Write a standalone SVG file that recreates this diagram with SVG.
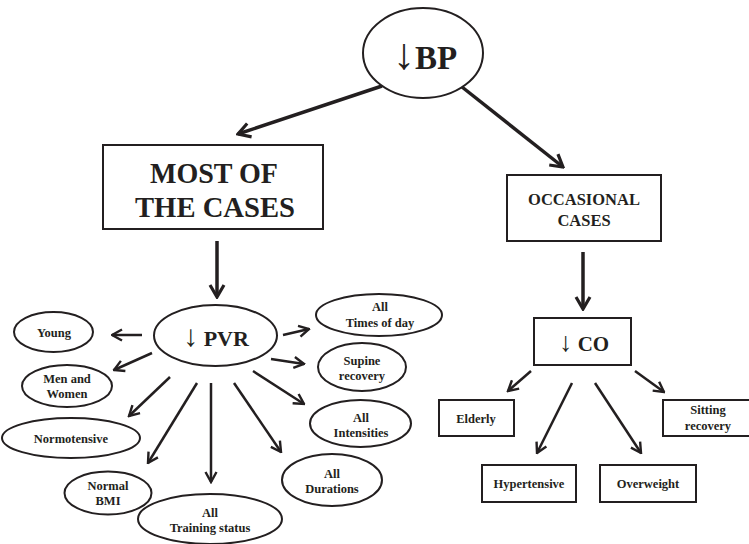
<svg xmlns="http://www.w3.org/2000/svg" width="749" height="544" viewBox="0 0 749 544">
<style>
  .shape { fill: #ffffff; stroke: #231f20; stroke-width: 2; }
  .lbl { font-family: "Liberation Serif", "Times New Roman", serif; font-weight: bold; fill: #231f20; text-anchor: middle; }
  .s { font-size: 12.5px; }
  .arrg { font-family: "Liberation Serif", "DejaVu Serif", serif; font-weight: normal; fill: #231f20; }
  .big { fill: none; stroke: #231f20; stroke-width: 3.5; }
  .thin { fill: none; stroke: #231f20; stroke-width: 2.5; }
</style>
<defs>
  <marker id="hb" viewBox="0 0 16 18" markerWidth="16" markerHeight="18" refX="14" refY="9" orient="auto" markerUnits="userSpaceOnUse">
    <path d="M2,2 L14,9 L2,16" fill="none" stroke="#231f20" stroke-width="3.2" stroke-linejoin="miter"/>
  </marker>
  <marker id="hs" viewBox="0 0 13 14" markerWidth="13" markerHeight="14" refX="11.5" refY="7" orient="auto" markerUnits="userSpaceOnUse">
    <path d="M1.5,1.5 L11.5,7 L1.5,12.5" fill="none" stroke="#231f20" stroke-width="2.4" stroke-linejoin="miter"/>
  </marker>
</defs>

<g id="connectors">
  <line class="big" x1="382" y1="86" x2="238" y2="134" marker-end="url(#hb)"/>
  <line class="big" x1="462" y1="87" x2="563" y2="167" marker-end="url(#hb)"/>
  <line class="big" x1="217" y1="241" x2="217" y2="297" marker-end="url(#hb)"/>
  <line class="big" x1="583" y1="252" x2="583" y2="309" marker-end="url(#hb)"/>

  <line class="thin" x1="142" y1="335" x2="112" y2="335" marker-end="url(#hs)"/>
  <line class="thin" x1="152" y1="353" x2="114" y2="370" marker-end="url(#hs)"/>
  <line class="thin" x1="170" y1="377" x2="129" y2="416" marker-end="url(#hs)"/>
  <line class="thin" x1="197" y1="383" x2="148" y2="463" marker-end="url(#hs)"/>
  <line class="thin" x1="211" y1="383" x2="211" y2="482" marker-end="url(#hs)"/>
  <line class="thin" x1="234" y1="383" x2="281" y2="452" marker-end="url(#hs)"/>
  <line class="thin" x1="253" y1="371" x2="304" y2="404" marker-end="url(#hs)"/>
  <line class="thin" x1="271" y1="359" x2="304" y2="364" marker-end="url(#hs)"/>
  <line class="thin" x1="283" y1="335" x2="309" y2="329" marker-end="url(#hs)"/>

  <line class="thin" x1="531" y1="371" x2="508" y2="391" marker-end="url(#hs)"/>
  <line class="thin" x1="572" y1="383" x2="537" y2="453" marker-end="url(#hs)"/>
  <line class="thin" x1="595" y1="383" x2="641" y2="453" marker-end="url(#hs)"/>
  <line class="thin" x1="635" y1="371" x2="664" y2="392" marker-end="url(#hs)"/>
</g>

<g id="bp">
  <ellipse class="shape" cx="423" cy="53" rx="60" ry="45"/>
  <text class="lbl" x="425" y="69" style="font-size:33px"><tspan class="arrg" style="font-size:44px">↓</tspan>BP</text>
</g>

<g id="most">
  <rect class="shape" x="103" y="145" width="220" height="84"/>
  <text class="lbl" x="214" y="183" style="font-size:30px" textLength="128" lengthAdjust="spacingAndGlyphs">MOST OF</text>
  <text class="lbl" x="215" y="217" style="font-size:30px" textLength="160" lengthAdjust="spacingAndGlyphs">THE CASES</text>
</g>

<g id="occasional">
  <rect class="shape" x="507" y="175" width="154" height="66"/>
  <text class="lbl" x="584" y="205" style="font-size:16.5px">OCCASIONAL</text>
  <text class="lbl" x="584" y="226" style="font-size:16.5px">CASES</text>
</g>

<g id="pvr">
  <ellipse class="shape" cx="215.5" cy="335.5" rx="61.5" ry="30.5"/>
  <text class="lbl" x="216" y="346" style="font-size:22px"><tspan class="arrg" style="font-size:30px">↓</tspan> PVR</text>
</g>

<g id="co">
  <rect class="shape" x="534" y="318" width="97" height="47"/>
  <text class="lbl" x="584" y="351" style="font-size:21px"><tspan class="arrg" style="font-size:27px">↓</tspan> CO</text>
</g>

<g id="young">
  <ellipse class="shape" cx="53.5" cy="332" rx="39.5" ry="20"/>
  <text class="lbl s" x="54" y="337">Young</text>
</g>

<g id="men-women">
  <ellipse class="shape" cx="67" cy="386" rx="45" ry="21"/>
  <text class="lbl s" x="67" y="383">Men and</text>
  <text class="lbl s" x="67" y="398">Women</text>
</g>

<g id="normotensive">
  <ellipse class="shape" cx="71" cy="438" rx="69" ry="20"/>
  <text class="lbl s" x="71" y="443">Normotensive</text>
</g>

<g id="normal-bmi">
  <ellipse class="shape" cx="108" cy="493" rx="43.5" ry="21.5"/>
  <text class="lbl s" x="108" y="490">Normal</text>
  <text class="lbl s" x="108" y="505">BMI</text>
</g>

<g id="training">
  <ellipse class="shape" cx="210" cy="519" rx="72" ry="25"/>
  <text class="lbl s" x="210" y="517">All</text>
  <text class="lbl s" x="210" y="532">Training status</text>
</g>

<g id="durations">
  <ellipse class="shape" cx="332" cy="480" rx="50" ry="26"/>
  <text class="lbl s" x="332" y="478">All</text>
  <text class="lbl s" x="332" y="493">Durations</text>
</g>

<g id="intensities">
  <ellipse class="shape" cx="360.5" cy="423.5" rx="50.5" ry="23.5"/>
  <text class="lbl s" x="361" y="422">All</text>
  <text class="lbl s" x="361" y="437">Intensities</text>
</g>

<g id="supine">
  <ellipse class="shape" cx="362" cy="367" rx="44" ry="24"/>
  <text class="lbl s" x="362" y="365">Supine</text>
  <text class="lbl s" x="362" y="380">recovery</text>
</g>

<g id="times">
  <ellipse class="shape" cx="379" cy="315" rx="63" ry="21"/>
  <text class="lbl s" x="380" y="311">All</text>
  <text class="lbl s" x="380" y="327">Times of day</text>
</g>

<g id="elderly">
  <rect class="shape" x="439" y="400" width="75" height="36"/>
  <text class="lbl s" x="476" y="423">Elderly</text>
</g>

<g id="sitting">
  <rect class="shape" x="663" y="400" width="95" height="36"/>
  <text class="lbl s" x="708" y="414">Sitting</text>
  <text class="lbl s" x="708" y="430">recovery</text>
</g>

<g id="hypertensive">
  <rect class="shape" x="482" y="465" width="94" height="37"/>
  <text class="lbl s" x="529" y="488">Hypertensive</text>
</g>

<g id="overweight">
  <rect class="shape" x="600" y="465" width="96" height="37"/>
  <text class="lbl s" x="648" y="488">Overweight</text>
</g>
</svg>
